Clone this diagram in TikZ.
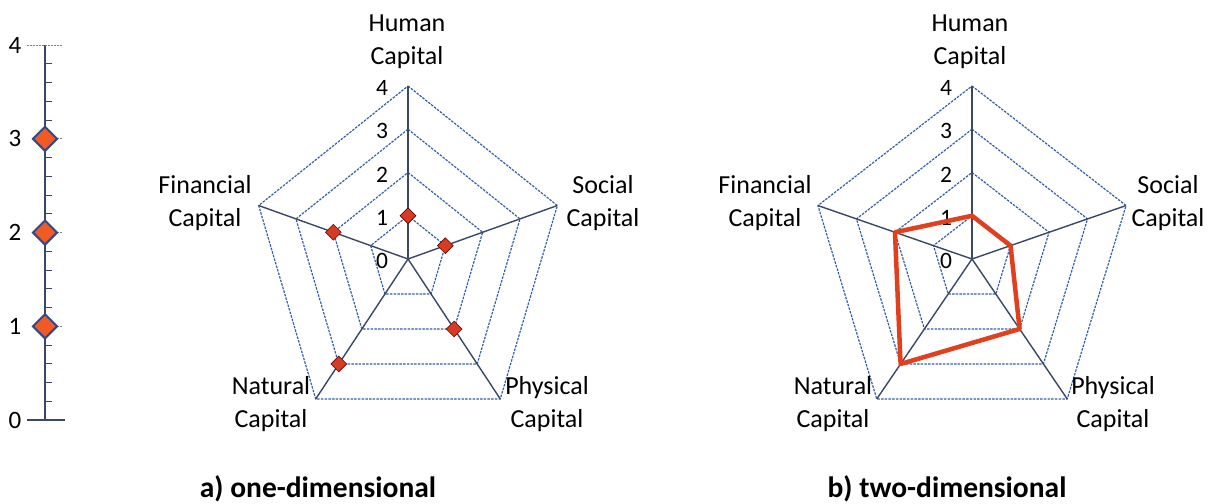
\documentclass[tikz,border=0pt]{standalone}
\usepackage{fontspec}
\setmainfont{Carlito}
\usetikzlibrary{shapes.geometric}
\definecolor{spoke}{HTML}{3A4868}
\definecolor{ring}{HTML}{3560A6}
\definecolor{dia}{HTML}{D63B24}
\definecolor{diaor}{HTML}{F05A24}
\definecolor{dborder}{HTML}{2E4A8C}
\definecolor{poly}{HTML}{E0401E}
\tikzset{
 ringline/.style={draw=ring, line width=1.2pt, dash pattern=on 2.5pt off 1.2pt},
 spokeline/.style={draw=spoke, line width=1.4pt},
 gridline/.style={draw=spoke!70, line width=0.9pt, dash pattern=on 1.5pt off 1.5pt},
 lbl/.style={font=\fontsize{26}{32.5}\selectfont, align=center, inner sep=0pt},
 num/.style={font=\fontsize{23.5}{23.5}\selectfont, inner sep=0pt},
 rdiam/.style={diamond, fill=dia, draw=black!60!red, line width=0.6pt, minimum size=16pt, inner sep=0pt},
 adiam/.style={diamond, fill=diaor, draw=dborder, line width=2pt, minimum size=25pt, inner sep=0pt},
 captxt/.style={font=\fontsize{29.5}{29.5}\selectfont\bfseries, inner sep=0pt}
}
\newcommand\radargrid[2]{%
  \foreach \v in {1,2,3,4}
    \draw[ringline] plot[samples at={90,18,-54,-126,162}] ({#1+#2*\v/4*cos(\x)},{259-173*\v/4*sin(\x)}) -- cycle;
  \foreach \a in {90,18,-54,-126,162}
    \draw[spokeline] (#1,259) -- ({#1+#2*cos(\a)},{259-173*sin(\a)});
  \foreach \v in {0,1,2,3,4}
    \node[num] at ({#1-26},{259-43.25*\v+2}) {\v};
}
\begin{document}
\begin{tikzpicture}[x=1pt,y=-1pt]
\useasboundingbox[fill=white] (0,0) rectangle (1212,503);

% ---------- left axis ----------
\draw[spokeline] (45,45) -- (45,420);
\foreach \k in {1,...,19}{
  \pgfmathtruncatemacro\m{mod(\k,5)}
  \ifnum\m=0\else \draw[spokeline, line width=1pt] (45,{420-18.75*\k}) -- (52,{420-18.75*\k}); \fi
}
\draw[gridline] (27,45) -- (63,45);
\foreach \k in {1,2,3} \draw[gridline] (33,{420-93.75*\k}) -- (63,{420-93.75*\k});
\draw[spokeline] (27,420) -- (65,420);
\foreach \k in {0,1,2,3,4}
  \node[num, font=\fontsize{25}{25}\selectfont] (ax\k) at (15,{420-93.75*\k}) {\k};
\foreach \k in {1,2,3}
  \node[adiam] (ad\k) at (45,{420-93.75*\k}) {};

% ---------- chart a ----------
\radargrid{408}{157}
\foreach \a/\val/\n in {90/1/H,18/1/S,-54/2/P,-126/3/N,162/2/F}
  \node[rdiam] (a\n) at ({408+157*\val/4*cos(\a)},{259-173*\val/4*sin(\a)}) {};
\node[lbl] (aHl) at (407,42) {Human\\Capital};
\node[lbl] (aSl) at (603,203) {Social\\Capital};
\node[lbl] (aPl) at (547,404) {Physical\\Capital};
\node[lbl] (aNl) at (271,404) {Natural\\Capital};
\node[lbl] (aFl) at (205,203) {Financial\\Capital};
\node[captxt] (capa) at (318,489) {a) one-dimensional};

% ---------- chart b ----------
\radargrid{972}{162}
\foreach \a/\val/\n in {90/1/H,18/1/S,-54/2/P,-126/3/N,162/2/F}
  \coordinate (b\n) at ({972+162*\val/4*cos(\a)},{259-173*\val/4*sin(\a)});
\draw[poly, line width=4.5pt, line join=round] (bH) -- (bS) -- (bP) -- (bN) -- (bF) -- cycle;
\node[lbl] (bHl) at (970,42) {Human\\Capital};
\node[lbl] (bSl) at (1168,203) {Social\\Capital};
\node[lbl] (bPl) at (1113,404) {Physical\\Capital};
\node[lbl] (bNl) at (833,404) {Natural\\Capital};
\node[lbl] (bFl) at (765,203) {Financial\\Capital};
\node[captxt] (capb) at (947,489) {b) two-dimensional};
\end{tikzpicture}
\end{document}
